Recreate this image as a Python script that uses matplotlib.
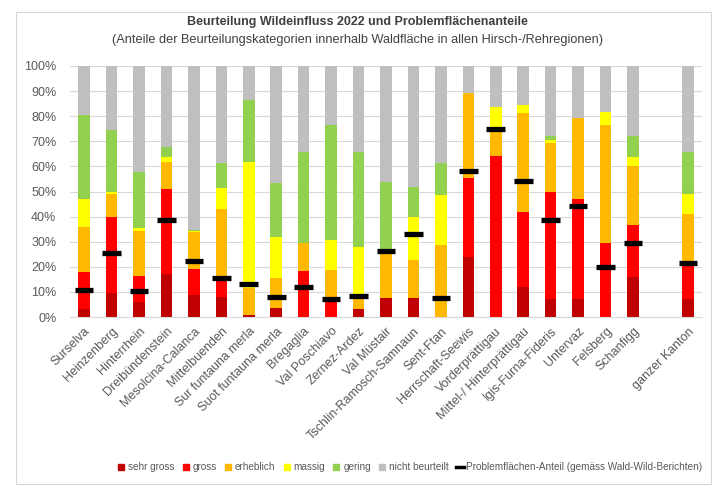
import matplotlib
matplotlib.use("Agg")
import matplotlib.pyplot as plt
import numpy as np
from matplotlib.patches import Rectangle
from matplotlib.lines import Line2D

plt.rcParams['font.family'] = ['Liberation Sans', 'DejaVu Sans']

regions = ["Surselva", "Heinzenberg", "Hinterrhein", "Dreibündenstein", "Mesolcina-Calanca",
           "Mittelbuenden", "Sur funtauna merla", "Suot funtauna merla", "Bregaglia", "Val Poschiavo",
           "Zernez-Ardez", "Val Müstair", "Tschlin-Ramosch-Samnaun", "Sent-Ftan", "Herrschaft-Seewis",
           "Vorderprättigau", "Mittel-/ Hinterprättigau", "Igis-Furna-Fideris", "Untervaz", "Felsberg",
           "Schanfigg", "", "ganzer Kanton"]

sehr_gross = [3.0, 9.4, 6.0, 17.0, 8.6, 8.0, 0.8, 3.4, 0.0, 0.0, 3.0, 7.4, 7.4, 0.0, 24.0,
              0.0, 12.0, 7.3, 7.3, 0.0, 16.0, np.nan, 7.3]
gross = [14.8, 30.6, 10.4, 34.0, 10.7, 6.8, 0.0, 0.0, 18.4, 7.3, 0.0, 0.0, 0.0, 0.0, 31.2,
         64.1, 29.9, 42.6, 39.6, 29.5, 20.6, np.nan, 14.0]
erheblich = [18.1, 9.0, 18.0, 10.8, 14.5, 28.4, 10.7, 12.0, 10.9, 11.3, 4.5, 18.8, 15.3, 28.6, 33.9,
             9.7, 39.2, 19.6, 32.2, 47.0, 23.5, np.nan, 19.9]
massig = [11.3, 1.0, 1.0, 1.8, 0.5, 8.0, 50.3, 16.6, 0.0, 12.0, 20.5, 0.0, 17.3, 19.9, 0.0,
          10.0, 3.3, 1.0, 0.0, 5.3, 3.7, np.nan, 8.0]
gering = [33.2, 24.5, 22.4, 4.2, 0.5, 10.0, 24.6, 21.2, 36.5, 45.9, 37.8, 27.7, 11.9, 12.7, 0.0,
          0.0, 0.0, 1.6, 0.0, 0.0, 8.3, np.nan, 16.6]
nicht_beurteilt = [19.6, 25.5, 42.2, 32.2, 65.2, 38.8, 13.6, 46.8, 34.2, 23.5, 34.2, 46.1, 48.1, 38.8, 10.9,
                   16.2, 15.6, 27.9, 20.9, 18.2, 27.9, np.nan, 34.2]
problemflaechen = [10.8, 25.5, 10.5, 38.8, 22.3, 15.7, 13.0, 8.0, 12.0, 7.0, 8.5, 26.2, 33.2, 7.4, 58.1,
                   74.9, 54.1, 38.6, 44.1, 19.8, 29.3, np.nan, 21.5]

series = [("sehr gross", sehr_gross, "#C00000"),
          ("gross", gross, "#FF0000"),
          ("erheblich", erheblich, "#FFB900"),
          ("massig", massig, "#FFFF00"),
          ("gering", gering, "#92D050"),
          ("nicht beurteilt", nicht_beurteilt, "#BFBFBF")]

fig = plt.figure(figsize=(7.12, 4.87), dpi=100)
W, H = 712, 487
ax = fig.add_axes([70.3 / W, 1 - 317 / H, (701.7 - 70.3) / W, (317 - 66) / H])

x = np.arange(len(regions))
bottom = np.zeros(len(regions))
handles = []
for name, vals, col in series:
    v = np.nan_to_num(np.array(vals, dtype=float))
    ax.bar(x, v, bottom=bottom, width=0.42, color=col, linewidth=0, zorder=2)
    bottom += v
    handles.append(Line2D([], [], marker='s', markersize=4, linestyle='none',
                          markerfacecolor=col, markeredgecolor=col, label=name))

prob = np.array(problemflaechen, dtype=float)
ax.hlines(prob, x - 0.34, x + 0.34, colors='black', linewidth=3.8, zorder=3)
handles.append(Line2D([], [], color='black', linewidth=2.5,
                      label="Problemflächen-Anteil (gemäss Wald-Wild-Berichten)"))

ax.set_xlim(-0.5, len(regions) - 0.5)
ax.set_ylim(0, 100)
ax.set_yticks(np.arange(0, 101, 10))
ax.set_yticklabels([f"{v}%" for v in range(0, 101, 10)], fontsize=9, color="#595959")
ax.set_xticks(x)
ax.set_xticklabels(regions, rotation=45, ha='right', rotation_mode='anchor',
                   fontsize=9, color="#595959")
ax.tick_params(axis='y', length=0, pad=10)
ax.tick_params(axis='x', length=0, pad=6)
ax.grid(axis='y', color='#D9D9D9', linewidth=0.8, zorder=0)
ax.set_axisbelow(True)
for s in ['top', 'right', 'left']:
    ax.spines[s].set_visible(False)
ax.spines['bottom'].set_color('#D9D9D9')

fig.text(357 / W, 1 - 22 / H, "Beurteilung Wildeinfluss 2022 und Problemflächenanteile",
         ha='center', va='center', fontsize=9, fontweight='bold', color='#404040')
fig.text(358 / W, 1 - 40 / H,
         "(Anteile der Beurteilungskategorien innerhalb Waldfläche in allen Hirsch-/Rehregionen)",
         ha='center', va='center', fontsize=9.2, color='#404040')

fig.legend(handles=handles, loc='center', bbox_to_anchor=(410 / W, 1 - 467 / H), ncol=7,
           frameon=False, fontsize=7.2, handlelength=0.8, handletextpad=0.3, columnspacing=0.7,
           labelcolor='#595959')

fig.patches.append(Rectangle((16 / W, 3 / H), (W - 17) / W, (H - 15) / H,
                             transform=fig.transFigure, fill=False, edgecolor='#D9D9D9',
                             linewidth=0.8))

fig.savefig("out.png", dpi=100, facecolor='white')
